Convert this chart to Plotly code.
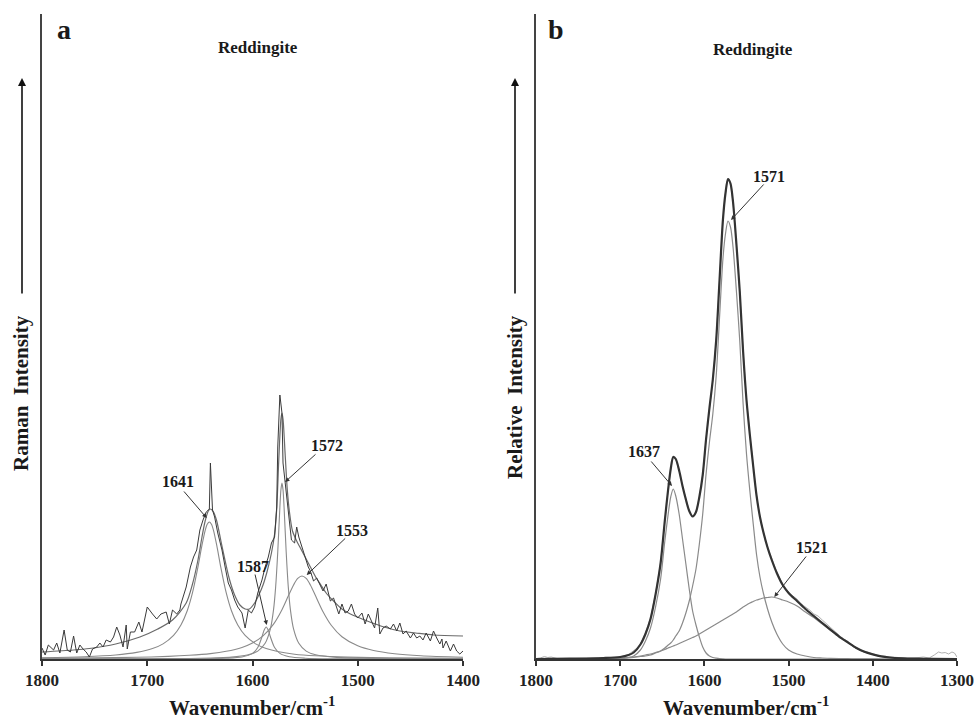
import plotly.graph_objects as go

SERIF = "Liberation Serif, Times New Roman, serif"

# ---------------- Panel a : Raman spectrum (1800-1400 cm-1) ----------------
a_ticks = [1800, 1700, 1600, 1500, 1400]

a_raw_wn = [1800, 1797, 1794, 1789, 1786, 1783, 1779, 1776, 1773, 1770, 1767, 1764, 1761, 1758, 1755,
            1752, 1748, 1745, 1742, 1739, 1735, 1732, 1729, 1726, 1723, 1720, 1719, 1716, 1712, 1708,
            1705, 1700, 1695, 1691, 1687, 1682, 1679, 1676, 1672, 1669, 1668, 1666, 1663, 1659, 1656,
            1653, 1650, 1647, 1644, 1641, 1640, 1638, 1636, 1633, 1629, 1626, 1623, 1620, 1617, 1614,
            1610, 1607, 1604, 1601, 1598, 1595, 1591, 1588, 1585, 1582, 1579, 1577, 1576, 1574, 1572,
            1571, 1568, 1566, 1563, 1560, 1558, 1556, 1553, 1550, 1547, 1545, 1542, 1539, 1536, 1533,
            1530, 1526, 1523, 1520, 1518, 1515, 1512, 1509, 1506, 1503, 1500, 1496, 1493, 1490, 1487,
            1484, 1481, 1479, 1476, 1473, 1469, 1466, 1463, 1460, 1457, 1454, 1450, 1447, 1444, 1441,
            1438, 1435, 1431, 1428, 1425, 1422, 1420, 1419, 1416, 1412, 1409, 1406, 1403, 1400]
a_raw_int = [11, 4, 14, 9, 16, 6, 29, 9, 7, 23, 6, 14, 10, 7, 2,
             10, 12, 16, 12, 19, 17, 22, 32, 24, 12, 34, 10, 27, 27, 37,
             27, 52, 45, 40, 45, 47, 35, 49, 45, 49, 55, 62, 72, 92, 102,
             109, 129, 139, 147, 150, 196, 149, 142, 126, 109, 92, 76, 69, 59, 52,
             46, 31, 49, 46, 52, 66, 79, 92, 102, 116, 122, 152, 212, 264, 246,
             196, 169, 149, 119, 116, 132, 122, 112, 102, 92, 88, 78, 81, 75, 68,
             75, 58, 61, 51, 45, 55, 46, 48, 55, 45, 41, 46, 35, 45, 38,
             31, 51, 25, 31, 33, 30, 35, 28, 36, 25, 28, 21, 26, 21, 23,
             19, 26, 18, 28, 21, 15, 20, 11, 18, 8, 15, 8, 5, 8]

a_fit_wn = [1800, 1770, 1755, 1730, 1707, 1690, 1676, 1663, 1657, 1652, 1648, 1645, 1642, 1640, 1637,
            1634, 1630, 1626, 1622, 1617, 1612, 1607, 1603, 1598, 1594, 1590, 1586, 1582, 1579, 1577,
            1575, 1573, 1572, 1571, 1569, 1567, 1565, 1562, 1558, 1555, 1550, 1545, 1540, 1535, 1530,
            1523, 1515, 1507, 1491, 1475, 1460, 1445, 1428, 1400]
a_fit_int = [7, 9, 10.5, 15, 22, 30, 39, 56, 75, 98, 122, 138, 148, 150, 147,
             138, 118, 98, 80, 64, 54, 50, 50, 56, 64, 74, 88, 106, 125, 150,
             200, 240, 246, 240, 205, 170, 148, 128, 118, 112, 102, 92, 82, 74, 66,
             58, 50, 45, 38, 32, 28, 26, 24, 23]

a_b1641_wn = [1800, 1760, 1730, 1710, 1695, 1685, 1675, 1668, 1662, 1657, 1652, 1648, 1645, 1643, 1641,
              1639, 1637, 1634, 1630, 1625, 1620, 1614, 1607, 1597, 1587, 1575, 1560, 1540, 1510, 1470, 1400]
a_b1641_int = [1.3, 2.3, 4.0, 6.6, 10.4, 15.1, 23.6, 34.0, 48.3, 66.3, 91.1, 113.8, 128.4, 134.8, 137,
               134.8, 128.4, 113.8, 91.1, 66.3, 48.3, 34.0, 23.6, 15.1, 10.4, 7.2, 4.8, 3.2, 1.9, 1.1, 0.6]

a_b1587_wn = [1800, 1700, 1650, 1625, 1610, 1600, 1595, 1591, 1589, 1587, 1585, 1583, 1579, 1574, 1565,
              1550, 1520, 1480, 1400]
a_b1587_int = [0.03, 0.09, 0.29, 0.78, 2.0, 5.6, 11.5, 22.2, 28.8, 32, 28.8, 22.2, 11.5, 5.6, 2.2,
               0.8, 0.25, 0.1, 0.03]

a_b1572_wn = [1800, 1700, 1650, 1620, 1605, 1595, 1588, 1583, 1580, 1578, 1576, 1574, 1573, 1572, 1571,
              1570, 1568, 1566, 1564, 1561, 1556, 1549, 1540, 1520, 1490, 1450, 1400]
a_b1572_int = [0.1, 0.3, 0.7, 1.9, 4.0, 7.9, 15.7, 30.1, 49.4, 72.1, 107.3, 151.7, 169.2, 176, 169.2,
               151.7, 107.3, 72.1, 49.4, 30.1, 15.7, 7.9, 4.2, 1.6, 0.65, 0.3, 0.15]

a_b1553_wn = [1800, 1750, 1710, 1680, 1660, 1640, 1625, 1610, 1600, 1590, 1580, 1572, 1566, 1561, 1557,
              1553, 1549, 1545, 1540, 1533, 1525, 1515, 1500, 1485, 1465, 1440, 1400]
a_b1553_int = [0.7, 1.1, 1.7, 2.6, 3.7, 5.4, 7.7, 11.6, 16.0, 23.1, 34.9, 49.3, 62.9, 74.0, 80.6,
               83, 80.6, 74.0, 62.9, 47.3, 33.5, 22.3, 13.2, 8.5, 5.3, 3.3, 1.8]

a_labels = ["1641", "1572", "1587", "1553"]
a_label_wn = [1670.8, 1529.5, 1599.2, 1505.7]
a_label_int = [178, 214, 93, 129]
a_head_wn = [1643.5, 1569.1, 1586.5, 1548.5]
a_head_int = [141, 177, 34, 84]
a_tail_dx = [-24, 32, -12, 40]
a_tail_dy = [-28, -29, -52, -38]

# ---------------- Panel b : band-fitted spectrum (1800-1300 cm-1) ----------------
b_ticks = [1800, 1700, 1600, 1500, 1400, 1300]

b_wn = [1800, 1760, 1720, 1700, 1690, 1684, 1676, 1670, 1664, 1658, 1652, 1647, 1643, 1640, 1637,
        1634, 1630, 1626, 1622, 1618, 1614, 1610, 1606, 1602, 1598, 1594, 1590, 1586, 1582, 1578,
        1575, 1572, 1569, 1566, 1562, 1558, 1554, 1550, 1546, 1542, 1538, 1534, 1530, 1525, 1520,
        1514, 1507, 1500, 1490, 1480, 1470, 1460, 1450, 1440, 1430, 1420, 1410, 1400, 1390, 1380,
        1365, 1350, 1330, 1300]
b_b1637 = [0, 0, 0.1, 0.5, 1.5, 3, 9, 18, 31, 52, 80, 118, 145, 162, 170,
           163, 145, 120, 95, 70, 48, 34, 22, 12, 6, 3, 1.5, 0.8, 0.3, 0.1,
           0, 0, 0, 0, 0, 0, 0, 0, 0, 0, 0, 0, 0, 0, 0,
           0, 0, 0, 0, 0, 0, 0, 0, 0, 0, 0, 0, 0, 0, 0,
           0, 0, 0, 0]
b_b1571 = [0, 0.1, 0.3, 0.5, 1, 1.5, 2.5, 3, 4, 6, 8, 11, 14, 16, 19,
           23, 28, 36, 46, 58, 73, 90, 115, 145, 185, 217, 245, 283, 342, 400,
           425, 438, 432, 412, 368, 318, 255, 205, 168, 135, 104, 82, 66, 50, 37,
           25, 15, 9, 5, 3, 1.5, 1, 0.6, 0.4, 0.3, 0.2, 0.2, 0.1, 0, 0,
           0, 0, 0, 0]
b_b1521 = [0, 0.2, 0.6, 1, 1.5, 2, 3, 4, 5, 6.5, 8, 9.5, 11, 12, 13,
           14, 15.5, 17, 18.5, 20, 21.5, 23, 25, 27, 29, 31, 33, 35, 37, 39,
           40.5, 42, 43.5, 45, 47, 49.5, 52, 54, 56, 57.5, 59, 60, 61, 61.5, 62,
           61, 59, 57, 53, 47, 41.5, 35, 28.5, 22, 16.5, 11, 7, 4.5, 2.5, 1.5,
           0.7, 0.3, 0.1, 0]
b_fit = [0, 0.3, 1.0, 2.0, 4.0, 6.5, 14.5, 25, 40, 64.5, 96, 138.5, 170, 190, 202,
         200, 188.5, 173, 159.5, 148, 142.5, 147, 162, 184, 220, 251, 279.5, 318.8, 379.3, 439.1,
         465.5, 480, 475.5, 457, 415, 367.5, 307, 259, 224, 192.5, 163, 142, 127, 111.5, 99,
         86, 74, 66, 58, 50, 43, 36, 29.1, 22.4, 16.8, 11.2, 7.2, 4.6, 2.6, 1.5,
         0.7, 0.3, 0.1, 0]

b_raw_wn = [1800, 1795, 1790, 1786, 1782, 1775, 1760, 1720, 1700, 1690, 1684, 1680, 1676, 1670, 1664,
            1658, 1652, 1647, 1643, 1640, 1637, 1634, 1630, 1626, 1622, 1618, 1614, 1610, 1606, 1602,
            1598, 1594, 1590, 1586, 1582, 1578, 1575, 1572, 1569, 1566, 1562, 1558, 1554, 1550, 1546,
            1542, 1538, 1534, 1530, 1525, 1520, 1514, 1507, 1500, 1495, 1490, 1485, 1480, 1475, 1470,
            1465, 1460, 1455, 1450, 1445, 1440, 1435, 1430, 1425, 1420, 1415, 1410, 1400, 1390, 1380,
            1370, 1360, 1350, 1340, 1333, 1327, 1322, 1318, 1314, 1310, 1306, 1303, 1300]
b_raw_int = [0.5, 1, 2.5, 1.5, 2, 0.5, 0.3, 1, 2, 4.5, 8, 11, 15, 26, 41,
             65, 97, 139, 170, 190, 202, 200, 188, 173, 159, 148, 142, 147, 162, 184,
             220, 251, 279, 319, 379, 439, 465, 480, 475, 457, 415, 367, 307, 259, 224,
             193, 163, 142, 127, 112, 100, 87, 75, 67, 63, 60, 55, 52, 49, 45,
             43, 39, 35, 31, 28, 24, 20, 18, 14, 12, 9, 8, 5, 3, 2,
             1.5, 1, 1, 2, 1, 4, 7, 6, 6.5, 5, 7, 6, 2]

b_labels = ["1571", "1637", "1521"]
b_label_wn = [1523.8, 1672.2, 1472.2]
b_label_int = [483, 208, 112]
b_head_wn = [1568.4, 1638.5, 1517.0]
b_head_int = [439, 173, 62]
b_tail_dx = [34, -22, 33]
b_tail_dy = [-37, -26, -42]

# ---------------- figure ----------------
fig = go.Figure()

def line(x, y, color, width, xa, ya, shape="spline"):
    fig.add_trace(go.Scatter(x=x, y=y, mode="lines", xaxis=xa, yaxis=ya,
                             line=dict(color=color, width=width, shape=shape,
                                       smoothing=0.8 if shape == "spline" else None),
                             hoverinfo="skip", showlegend=False))

COMP = "#8a8a8a"
# panel a
line(a_b1641_wn, a_b1641_int, COMP, 1.1, "x", "y")
line(a_b1587_wn, a_b1587_int, COMP, 1.1, "x", "y")
line(a_b1572_wn, a_b1572_int, COMP, 1.1, "x", "y")
line(a_b1553_wn, a_b1553_int, COMP, 1.1, "x", "y")
line(a_fit_wn, a_fit_int, "#6a6a6a", 1.2, "x", "y")
line(a_raw_wn, a_raw_int, "#3a3a3a", 1.0, "x", "y", shape="linear")
# panel b
line(b_raw_wn, b_raw_int, "#b0b0b0", 1.0, "x2", "y2", shape="linear")
line(b_wn, b_b1637, COMP, 1.2, "x2", "y2")
line(b_wn, b_b1571, COMP, 1.2, "x2", "y2")
line(b_wn, b_b1521, COMP, 1.2, "x2", "y2")
line(b_wn, b_fit, "#333333", 2.2, "x2", "y2")

W, H = 976, 719
def px(x):
    return x / W
def py(y):
    return (H - y) / H

tickfont = dict(family=SERIF, size=17, color="#222222", weight="bold")
common_x = dict(showline=True, linecolor="#333333", linewidth=2, ticks="outside", ticklen=5,
                tickwidth=1.5, tickcolor="#333333", showgrid=False, zeroline=False,
                tickfont=tickfont, automargin=False, fixedrange=True)
common_y = dict(showline=True, linecolor="#444444", linewidth=1.5, ticks="", showticklabels=False,
                showgrid=False, zeroline=False, automargin=False, range=[0, 645],
                domain=[py(659), py(14)], fixedrange=True)

fig.update_layout(
    width=W, height=H,
    margin=dict(l=0, r=0, t=0, b=0),
    paper_bgcolor="white", plot_bgcolor="white",
    xaxis=dict(common_x, domain=[px(42), px(463)], range=[1800, 1400], tickvals=a_ticks, anchor="y"),
    yaxis=dict(common_y, anchor="x"),
    xaxis2=dict(common_x, domain=[px(536), px(957)], range=[1800, 1300], tickvals=b_ticks, anchor="y2"),
    yaxis2=dict(common_y, anchor="x2"),
)

ann = []
bold = lambda s: dict(family=SERIF, size=s, color="#1a1a1a", weight="bold")

def ptext(x, y, text, size, angle=0):
    ann.append(dict(xref="paper", yref="paper", x=px(x), y=py(y), text=text, showarrow=False,
                    xanchor="center", yanchor="middle", textangle=angle, font=bold(size)))

# panel letters and titles
ptext(64, 30, "a", 28)
ptext(556, 30, "b", 28)
ptext(258, 47, "Reddingite", 17)
ptext(753, 49, "Reddingite", 17)

# axis titles
ptext(252, 706, "Wavenumber/cm<sup>-1</sup>", 21)
ptext(746, 706, "Wavenumber/cm<sup>-1</sup>", 21)
ptext(21, 393, "Raman  Intensity", 21, -90)
ptext(515, 397, "Relative  Intensity", 21, -90)

# intensity arrows
for xx in (22, 515):
    ann.append(dict(xref="paper", yref="paper", x=px(xx), y=py(78), ax=0, ay=217, text="",
                    showarrow=True, arrowhead=2, arrowsize=1, arrowwidth=1.6, arrowcolor="#111111"))

# band labels with leader arrows
def band_labels(labels, lw, li, hw, hi, dx, dy, xr, yr):
    for t, x0, y0, x1, y1, ddx, ddy in zip(labels, lw, li, hw, hi, dx, dy):
        ann.append(dict(xref=xr, yref=yr, x=x0, y=y0, text=t, showarrow=False,
                        xanchor="center", yanchor="middle", font=bold(16)))
        ann.append(dict(xref=xr, yref=yr, x=x1, y=y1, ax=ddx, ay=ddy, text="", showarrow=True,
                        arrowhead=2, arrowsize=0.9, arrowwidth=1, arrowcolor="#333333"))

band_labels(a_labels, a_label_wn, a_label_int, a_head_wn, a_head_int, a_tail_dx, a_tail_dy, "x", "y")
band_labels(b_labels, b_label_wn, b_label_int, b_head_wn, b_head_int, b_tail_dx, b_tail_dy, "x2", "y2")

fig.update_layout(annotations=ann)
fig.write_html("out.html")
